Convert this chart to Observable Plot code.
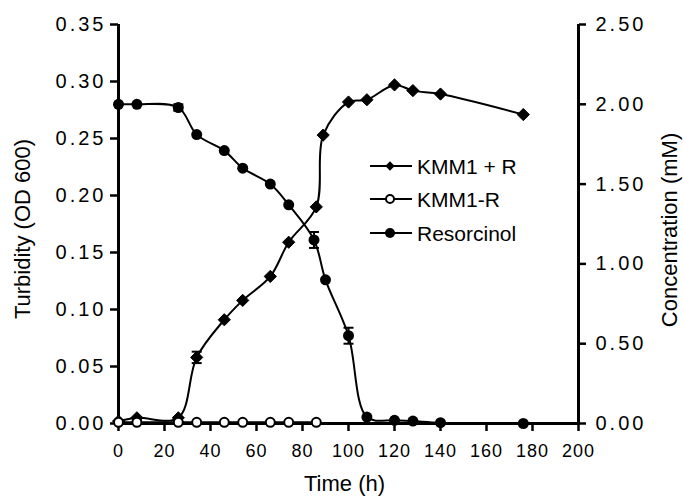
<!DOCTYPE html>
<html><head><meta charset="utf-8">
<script src="https://cdn.jsdelivr.net/npm/d3@7"></script>
<script src="https://cdn.jsdelivr.net/npm/@observablehq/plot@0.6"></script>
<style>body{margin:0;background:#fff}</style>
</head><body><div id="chart"></div>
<script>
// ---- data ----
const xTicks = [0, 20, 40, 60, 80, 100, 120, 140, 160, 180, 200];
const yLeftTicks = [0, 0.05, 0.10, 0.15, 0.20, 0.25, 0.30, 0.35];
const yRightTicks = [0, 0.5, 1.0, 1.5, 2.0, 2.5];

const kmmPlusTime = [0, 8, 26, 34, 46, 54, 66, 74, 86, 89, 100, 108, 120, 128, 140, 176];
const kmmPlusR    = [0.002, 0.005, 0.005, 0.058, 0.091, 0.108, 0.129, 0.159, 0.190, 0.253, 0.282, 0.284, 0.297, 0.292, 0.289, 0.271];

const kmmMinusTime = [0, 8, 26, 34, 46, 54, 66, 74, 86];
const kmmMinusR    = [0.001, 0.001, 0.001, 0.001, 0.001, 0.001, 0.001, 0.001, 0.001];

const resTime    = [0, 8, 26, 34, 46, 54, 66, 74, 85, 90, 100, 108, 120, 128, 140, 176];
const resorcinol = [2.00, 2.00, 1.98, 1.81, 1.71, 1.60, 1.50, 1.37, 1.15, 0.90, 0.55, 0.04, 0.02, 0.015, 0.005, 0.0];

const resErrTime = [26, 85, 100];
const resErr     = [0.02, 0.05, 0.05];
const kmmErrTime = [34];
const kmmErr     = [0.005];

const seriesNames = ["KMM1 + R", "KMM1-R", "Resorcinol"];

// right axis (mM) mapped onto left scale (OD)
const k = 0.35 / 2.5;

const kmmPlus = kmmPlusTime.map((t, i) => ({t, v: kmmPlusR[i]}));
const kmmMinus = kmmMinusTime.map((t, i) => ({t, v: kmmMinusR[i]}));
const res = resTime.map((t, i) => ({t, v: resorcinol[i] * k}));
const resErrs = resErrTime.map((t, i) => {
  const c = resorcinol[resTime.indexOf(t)];
  return {t, lo: (c - resErr[i]) * k, hi: (c + resErr[i]) * k};
});
const kmmErrs = kmmErrTime.map((t, i) => {
  const c = kmmPlusR[kmmPlusTime.indexOf(t)];
  return {t, lo: c - kmmErr[i], hi: c + kmmErr[i]};
});
const errs = resErrs.concat(kmmErrs);
const caps = errs.flatMap(d => [{t: d.t, v: d.lo}, {t: d.t, v: d.hi}]);

const capSymbol = {draw(ctx) { ctx.moveTo(-5, 0); ctx.lineTo(5, 0); }};

const font = "'Liberation Sans', Arial, Helvetica, sans-serif";

const chart = Plot.plot({
  width: 683, height: 499,
  marginLeft: 118, marginRight: 105, marginTop: 24, marginBottom: 76,
  style: {fontFamily: font, background: "white", color: "black"},
  x: {domain: [0, 200]},
  y: {domain: [0, 0.35]},
  marks: [
    Plot.axisX({ticks: xTicks, tickSize: 8, tickPadding: 13, tickFormat: d => String(d), fontSize: 18, strokeWidth: 2.5, label: null}),
    Plot.axisY({ticks: yLeftTicks, anchor: "left", tickSize: 8, tickPadding: 4, tickFormat: d => d.toFixed(2), fontSize: 20, strokeWidth: 2.5, label: null}),
    Plot.axisY(yRightTicks.map(v => v * k), {anchor: "right", tickSize: 7, tickPadding: 10, tickFormat: d => (d / k).toFixed(2), fontSize: 20, strokeWidth: 2.5, label: null}),
    Plot.ruleX([0, 200], {strokeWidth: 3}),
    Plot.ruleY([0], {strokeWidth: 3}),
    Plot.text(["Turbidity (OD 600)"], {frameAnchor: "left", textAnchor: "middle", rotate: -90, dx: -96, dy: 5, fontSize: 22, fill: "black"}),
    Plot.text(["Concentration (mM)"], {frameAnchor: "right", textAnchor: "middle", rotate: -90, dx: 91, dy: 6, fontSize: 22, fill: "black"}),
    Plot.text(["Time (h)"], {frameAnchor: "bottom", textAnchor: "middle", dy: 67, dx: -4, fontSize: 22, fill: "black"}),
    Plot.line(res, {x: "t", y: "v", curve: "catmull-rom", stroke: "black", strokeWidth: 2}),
    Plot.line(kmmPlus, {x: "t", y: "v", curve: "catmull-rom", stroke: "black", strokeWidth: 2}),
    Plot.line(kmmMinus, {x: "t", y: "v", curve: "catmull-rom", stroke: "black", strokeWidth: 2}),
    Plot.ruleX(errs, {x: "t", y1: "lo", y2: "hi", stroke: "black", strokeWidth: 2}),
    Plot.dot(caps, {x: "t", y: "v", symbol: capSymbol, stroke: "black", fill: "none", strokeWidth: 2}),
    Plot.dot(res, {x: "t", y: "v", r: 5.5, fill: "black", stroke: "none"}),
    Plot.dot(kmmPlus, {x: "t", y: "v", symbol: "diamond2", r: 5.5, fill: "black", stroke: "black", strokeWidth: 1}),
    Plot.dot(kmmMinus, {x: "t", y: "v", r: 4.5, fill: "white", stroke: "black", strokeWidth: 2})
  ]
});

const svg = d3.select(chart);
svg.selectAll('g[aria-label="y-axis tick label"] text').style("letter-spacing", "3px");
svg.selectAll('g[aria-label="x-axis tick label"] text').style("letter-spacing", "1px");

// legend
const leg = svg.append("g").attr("font-family", font).attr("font-size", 21).attr("text-anchor", "start");
const rows = [166, 199, 233];
rows.forEach((y, i) => {
  leg.append("line").attr("x1", 370).attr("x2", 412).attr("y1", y).attr("y2", y).attr("stroke", "black").attr("stroke-width", 2);
  if (i === 0) leg.append("path").attr("d", d3.symbol(d3.symbolDiamond2, 55)()).attr("transform", `translate(390,${y})`).attr("fill", "black");
  if (i === 1) leg.append("circle").attr("cx", 390).attr("cy", y).attr("r", 4).attr("fill", "white").attr("stroke", "black").attr("stroke-width", 2);
  if (i === 2) leg.append("circle").attr("cx", 390).attr("cy", y).attr("r", 5).attr("fill", "black");
  leg.append("text").attr("x", 417).attr("y", y).attr("dy", "0.36em").attr("fill", "black").text(seriesNames[i]);
});

document.getElementById("chart").append(chart);
</script>
</body></html>
